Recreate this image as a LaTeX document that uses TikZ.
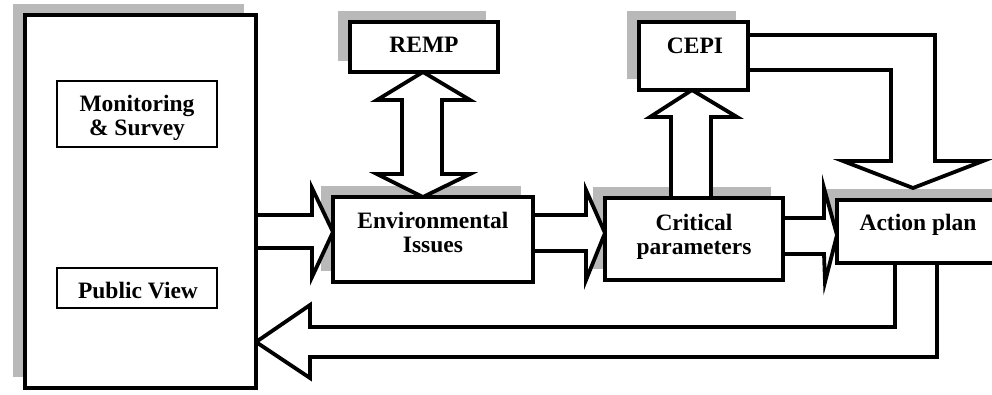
\documentclass[tikz,border=0pt]{standalone}
\usepackage{fontspec}
\setmainfont{Liberation Serif}
\usetikzlibrary{calc}
\pgfdeclarelayer{shadowlayer}
\pgfdeclarelayer{arrowlayer}
\pgfsetlayers{shadowlayer,arrowlayer,main}
\begin{document}
\begin{tikzpicture}[x=1pt,y=-1pt,
  box/.style={draw,line width=4.5pt,fill=white,outer sep=0pt,inner sep=0pt,anchor=north west},
  thinbox/.style={draw,line width=1.3pt,fill=white,outer sep=0pt,inner sep=0pt,anchor=north west},
  shadowfill/.style={fill=gray!55},
  barrow/.style={draw,line width=3.8pt,fill=white,line join=miter},
  lbl/.style={font=\fontsize{23.5}{24}\selectfont\bfseries,align=center,inner sep=0pt,anchor=base},
]
\clip (0,0) rectangle (992,394);
% boxes
\node[box,minimum width=231pt,minimum height=373pt] (big) at (25,15) {};
\node[thinbox,minimum width=160pt,minimum height=66pt] (mon) at (57,81) {};
\node[thinbox,minimum width=160pt,minimum height=40pt] (pub) at (57,268) {};
\node[box,minimum width=148pt,minimum height=50pt] (remp) at (350,22) {};
\node[box,minimum width=200pt,minimum height=85pt] (env) at (333,197) {};
\node[box,minimum width=109pt,minimum height=68pt] (cepi) at (639,22) {};
\node[box,minimum width=178pt,minimum height=82pt] (crit) at (605,198) {};
\node[box,minimum width=200pt,minimum height=63pt] (act) at (837,200) {};
% shadows
\begin{pgfonlayer}{shadowlayer}
\foreach \b in {big,remp,env,cepi,crit,act}
  \fill[shadowfill] ($(\b.north west)+(-12,-11)$) rectangle ($(\b.south east)+(-12,-11)$);
\end{pgfonlayer}
% block arrows
\begin{pgfonlayer}{arrowlayer}
\draw[barrow] (big.east |- 0,215) -- (312,215) -- (312,188) -- (env.west |- 0,232)
  -- (312,277) -- (312,248) -- (big.east |- 0,248) -- cycle;
\draw[barrow] (env.east |- 0,215) -- (586,215) -- (586,190) -- (crit.west |- 0,233)
  -- (586,280) -- (586,251) -- (env.east |- 0,251) -- cycle;
\draw[barrow] (crit.east |- 0,218) -- (824,218) -- (824,188) -- (act.west |- 0,235)
  -- (825,282) -- (824,254) -- (crit.east |- 0,254) -- cycle;
\draw[barrow] (423,0 |- remp.south) -- (470,100) -- (442,100) -- (442,174) -- (470,174)
  -- (423,0 |- env.north) -- (377,174) -- (402,174) -- (402,100) -- (377,100) -- cycle;
\draw[barrow] (671,0 |- crit.north) -- (671,117) -- (650,117) -- (692,0 |- cepi.south)
  -- (737,117) -- (711,117) -- (711,0 |- crit.north) -- cycle;
\draw[barrow] (cepi.east |- 0,35) -- (935,35) -- (935,161) -- (983,161) -- (913,188)
  -- (843,161) -- (891,161) -- (891,70) -- (cepi.east |- 0,70) -- cycle;
\draw[barrow] (895,0 |- act.south) -- (895,327) -- (310,327) -- (310,305) -- (big.east |- 0,342)
  -- (310,378) -- (310,357) -- (937,357) -- (937,0 |- act.south) -- cycle;
\end{pgfonlayer}
% labels
\node[lbl] (tremp) at (424,52) {REMP};
\node[lbl] (tcepi) at (695,53) {CEPI};
\node[lbl] (tenv) at (433,252) {Environmental\\Issues};
\node[lbl] (tcrit) at (694,254) {Critical\\parameters};
\node[lbl] (tact) at (918,230) {Action plan};
\node[lbl] (tmon) at (137,135) {Monitoring\\\& Survey};
\node[lbl] (tpub) at (138,298) {Public View};
\end{tikzpicture}
\end{document}
